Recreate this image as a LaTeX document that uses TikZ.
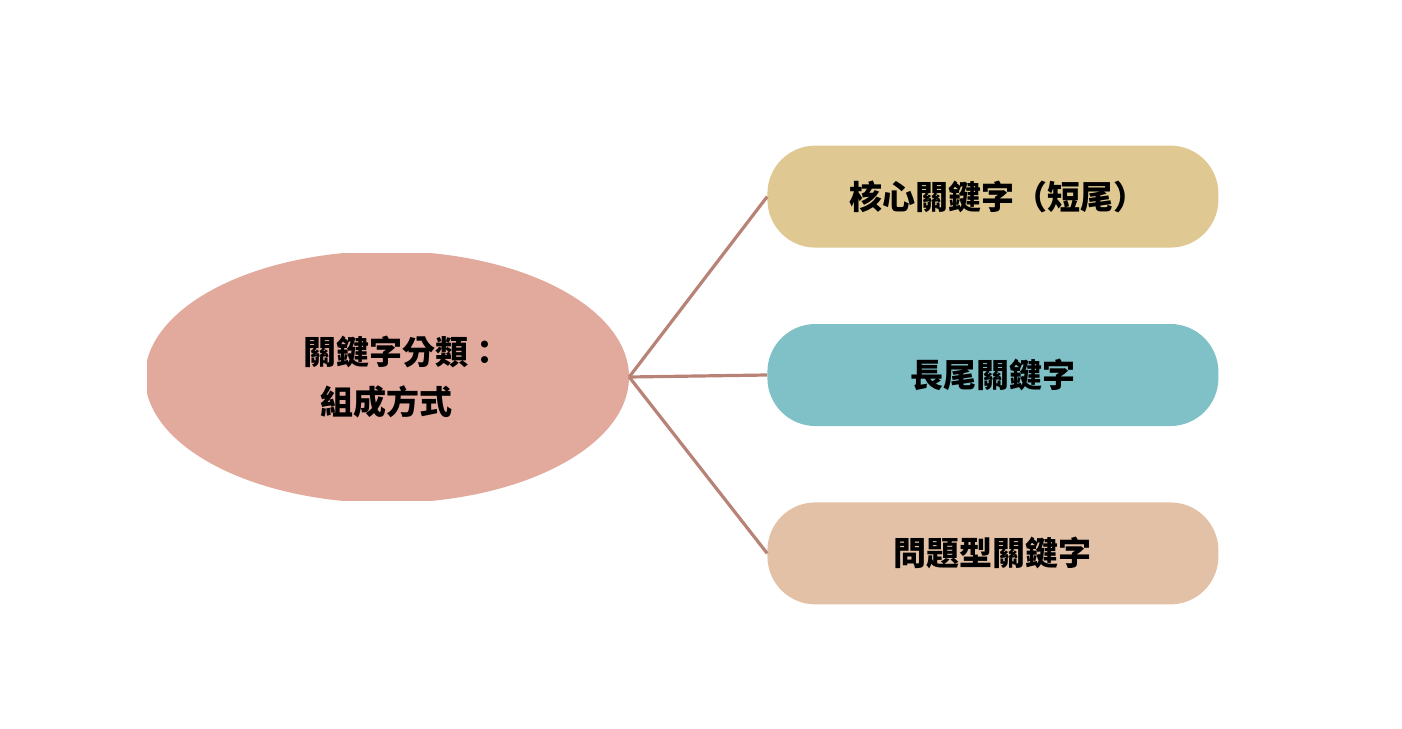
\documentclass[tikz,border=0pt]{standalone}
\usepackage{fontspec}
\newfontfamily\cjk{Noto Sans CJK TC}
\usepackage{xcolor}
\usepackage{tikz}
\usetikzlibrary{positioning,shapes.geometric}
\definecolor{rootfill}{HTML}{E2A99D}
\definecolor{corefill}{HTML}{DFC891}
\definecolor{longfill}{HTML}{7FC1C6}
\definecolor{askfill}{HTML}{E2C1A7}
\definecolor{linkcol}{HTML}{B98276}

\begin{document}
\begin{tikzpicture}[
  x=1pt,y=-1pt,
  font=\cjk\bfseries\fontsize{33}{50}\selectfont,
  node distance=76pt and 138pt,
  root/.style={ellipse,fill=rootfill,minimum width=484pt,minimum height=252pt,inner sep=0pt},
  kw/.style={rounded corners=48pt,minimum width=451pt,minimum height=102pt,inner sep=0pt,align=center},
  link/.style={draw=linkcol,line width=3.2pt}]
\useasboundingbox (0,0) rectangle (1402,728);
\begin{scope}
\clip (147,253) rectangle (700,500);
\node[root,label={[align=left,xshift=15pt]center:關鍵字分類：\\\hspace*{17pt}組成方式}] (root) at (387,377) {};
\end{scope}
\node[kw,fill=longfill,right=of root,yshift=2pt] (long) {長尾關鍵字};
\node[kw,fill=corefill,above=of long] (core) {\hspace*{10pt}核心關鍵字（短尾）};
\node[kw,fill=askfill,below=of long] (ask) {問題型關鍵字};
\draw[link] (root.east)--(core.west);
\draw[link] (root.east)--(long.west);
\draw[link] (root.east)--(ask.west);
\end{tikzpicture}
\end{document}
